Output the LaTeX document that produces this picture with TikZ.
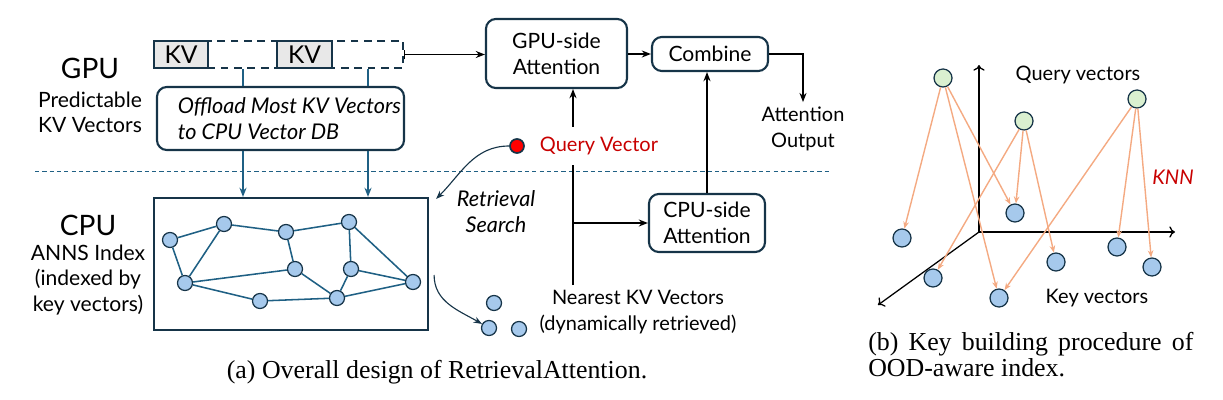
\documentclass[tikz,border=0pt]{standalone}
\usepackage{fontspec}
\setmainfont{Lato}
\newfontfamily\capfont{Liberation Serif}
\usepackage{tikz}
\usetikzlibrary{arrows, arrows.meta, positioning, calc}
\definecolor{boxline}{RGB}{22,52,72}
\definecolor{linkblue}{RGB}{31,96,132}
\definecolor{vecblue}{RGB}{166,201,236}
\definecolor{qgreen}{RGB}{218,240,208}
\definecolor{knnorange}{RGB}{244,170,130}
\definecolor{qred}{RGB}{200,0,0}
\definecolor{kvgray}{RGB}{232,232,232}

\begin{document}
\begin{tikzpicture}[x=0.025cm, y=0.025cm,
arr/.style={->, >={Stealth[length=6.5pt, width=5pt]}, line width=1pt, black}, barr/.style={line
width=1.1pt, linkblue}, oarr/.style={->, >={Stealth[length=5pt, width=4pt]}, line width=1pt,
knnorange}, rbox/.style={rectangle, rounded corners=7pt, draw=boxline, line width=1.5pt,
align=center, font=\fontsize{15}{18.4}\selectfont}, kvbox/.style={rectangle, draw=boxline, line
width=1.5pt, fill=kvgray, minimum height=0.675cm, inner sep=0pt, font=\fontsize{17.5}{18}\selectfont},
gdot/.style={circle, draw=boxline, line width=0.9pt, fill=vecblue, minimum size=0.375cm, inner
sep=0pt}, vdot/.style={circle, draw=boxline, line width=0.9pt, fill=vecblue, minimum size=0.45cm,
inner sep=0pt}, lbl/.style={align=center, font=\fontsize{14.2}{18.4}\selectfont},
slbl/.style={align=center, font=\fontsize{15}{18}\selectfont}, ilbl/.style={align=center,
font=\fontsize{15.4}{18.4}\selectfont\itshape}, hw/.style={font=\fontsize{20}{22}\selectfont},
subcap/.style={align=left, font=\capfont\fontsize{18.4}{18.4}\selectfont} ]
\useasboundingbox (0,0) rectangle (1223,-400);
% GPU side
\node[hw] (gpu) at (90,-68) {GPU};
\node[slbl] (gpunote) at (90,-112) {Predictable\\KV Vectors};
\node[rectangle, draw=boxline, line width=1.5pt, dash pattern=on 5.5pt off 4pt, minimum width=6.225cm,
minimum height=0.675cm] (kvrow) at (278.5,-54.5) {};
\node[kvbox, minimum width=1.35cm] (kv1) at (181,-54.5) {KV};
\node[kvbox, minimum width=1.375cm] (kv2) at (304.5,-54.5) {KV};
\node[rbox, ilbl, align=left, inner xsep=2pt, minimum width=6.175cm, minimum height=1.575cm] (offload)
at (280.5,-118.5) {\hspace*{0.45cm}Offload Most KV Vectors\\\hspace*{0.45cm}to CPU Vector DB};
\draw[linkblue, dash pattern=on 3pt off 2.2pt, line width=0.7pt] (35,-171) -- (830,-171);
% CPU side
\node[hw] (cpu) at (88,-225) {CPU};
\node[slbl] (cpunote) at (88,-280) {ANNS Index\\(indexed by\\key vectors)};
\node[rectangle, draw=boxline, line width=1.5pt, minimum width=6.85cm, minimum height=3.3cm]
(cpubox) at (291,-264) {};
\coordinate (colA) at (243,-171);
\coordinate (colB) at (368,-171);
\foreach \c in {colA,colB} {
\draw[barr] (kvrow.south -| \c) -- (offload.north -| \c);
\draw[barr, ->, >={Stealth[length=6.5pt, width=5pt]}] (offload.south -| \c) -- (cpubox.north -| \c);
}
\foreach \n/\x/\y in {n1/170/240, n2/224/224, n3/286/232, n4/349/222, n5/185/283, n6/295/269,
n7/351/269, n8/413/282, n9/260/301, n10/337/298}
\node[gdot] (\n) at (\x,-\y) {};
\foreach \a/\b in {n1/n2, n1/n5, n2/n5, n2/n3, n3/n4, n3/n6, n5/n6, n5/n9, n9/n10, n6/n10, n10/n7,
n7/n4, n4/n8, n7/n8, n10/n8}
\draw[barr] (\a) -- (\b);
% attention
\node[rbox, minimum width=3.525cm, minimum height=1.725cm] (gpuatt) at (556.5,-53.5) {GPU-side\\Attention};
\node[rbox, minimum width=2.9cm, minimum height=0.85cm] (combine) at (710,-54) {Combine};
\node[rbox, minimum width=2.9cm, minimum height=1.45cm] (cpuatt) at (707,-223) {CPU-side\\Attention};
\node[lbl] (attout) at (803,-129) {Attention\\Output};
\draw[arr, |->] (kvrow.east) -- (kvrow.east -| gpuatt.west);
\draw[arr] (gpuatt.east |- combine.west) -- (combine.west);
\draw[arr] (combine.east) -| (attout.north);
\draw[arr] (cpuatt.north) -- (cpuatt.north |- combine.south);
% query and retrieval
\node[circle, draw=boxline, line width=1.2pt, fill=red, minimum size=0.35cm, inner sep=0pt] (qdot) at (517,-146) {};
\node[lbl, anchor=west, text=qred, inner ysep=7pt] (qtext) at (535,-146) {Query Vector};
\coordinate (trunk) at (573,-223);
\node[lbl] (nearest) at (638,-312) {Nearest KV Vectors\\(dynamically retrieved)};
\draw[line width=1pt] (nearest.north -| trunk) -- (qtext.south -| trunk);
\draw[arr] (qtext.north -| trunk) -- (gpuatt.south -| trunk);
\draw[arr] (trunk) -- (cpuatt.west);
\draw[->, >={Stealth[length=6pt, width=4.5pt]}, boxline, line width=0.8pt] (qdot.west) to[out=180, in=45]
([shift={(7,-2)}]cpubox.north east);
\node[ilbl] (retr) at (496,-212) {Retrieval\\Search};
\foreach \n/\x/\y in {r1/494/303, r2/489/328, r3/519/329}
\node[gdot] (\n) at (\x,-\y) {};
\draw[->, >={Stealth[length=6pt, width=4.5pt]}, boxline, line width=0.8pt] ([shift={(5,-11)}]cpubox.east)
to[out=270, in=150] (r2);
\node[subcap] (capa) at (437,-372) {(a) Overall design of RetrievalAttention.};
% OOD-aware index
\coordinate (origin) at (979,-232);
\coordinate (axup) at (979,-65);
\coordinate (axright) at (1175,-232);
\coordinate (axfront) at (878,-305);
\foreach \t in {axup,axright,axfront} \draw[->, >={To[length=4pt, width=8pt]}, line width=0.9pt] (origin) -- (\t);
\foreach \n/\x/\y in {q1/943/78, q2/1024/121, q3/1137/99}
\node[vdot, fill=qgreen] (\n) at (\x,-\y) {};
\foreach \n/\x/\y in {k1/902/238, k2/1015/213, k3/933/278, k4/999/298, k5/1056/262, k6/1117/247,
k7/1152/267}
\node[vdot] (\n) at (\x,-\y) {};
\foreach \a/\b in {q1/k1, q1/k2, q1/k4, q2/k3, q2/k2, q2/k5, q3/k4, q3/k6, q3/k7}
\draw[oarr] (\a) -- (\b);
\node[lbl] (qlbl) at (1078,-75) {Query vectors};
\node[lbl, text=qred, font=\fontsize{14.4}{18.4}\selectfont\itshape] (knn) at (1173,-177) {KNN};
\node[lbl] (klbl) at (1097,-298) {Key vectors};
\node[subcap, anchor=west, inner xsep=0pt] (capb) at (868,-355)
{\makebox[8.125cm][s]{(b) Key building procedure of}\\OOD-aware index.};
\end{tikzpicture}
\end{document}
